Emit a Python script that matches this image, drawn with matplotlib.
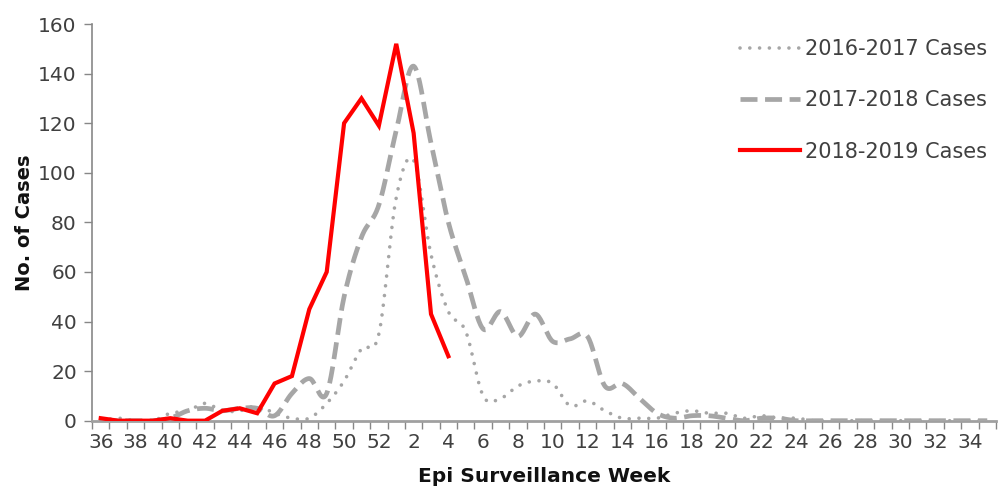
import numpy as np
import matplotlib
matplotlib.use("Agg")
import matplotlib.pyplot as plt

weeks = list(range(36, 53)) + list(range(1, 36))

cases_2016_2017 = [0, 1, 0, 0, 3, 4, 7, 4, 4, 6, 3, 1, 1, 7, 16, 29, 35,
                   90, 105, 67, 44, 36, 10, 9, 14, 16, 15, 6, 8, 4, 1, 1, 1,
                   3, 4, 3, 3, 1, 2, 1, 1, 0, 0, 0, 0, 0, 0, 0, 0, 0, 0, 0]
cases_2017_2018 = [0, 0, 0, 0, 1, 4, 5, 4, 5, 5, 2, 11, 17, 11, 50, 74, 87,
                   117, 143, 112, 80, 58, 37, 44, 34, 43, 32, 33, 34, 14, 15, 9, 3,
                   1, 2, 2, 1, 0, 1, 1, 0, 0, 0, 0, 0, 0, 0, 0, 0, 0, 0, 0]
cases_2018_2019 = [1, 0, 0, 0, 1, 0, 0, 4, 5, 3, 15, 18, 45, 60, 120, 130, 119,
                   152, 116, 43, 26]

series_labels = ["2016-2017 Cases", "2017-2018 Cases", "2018-2019 Cases"]
y_ticks = [0, 20, 40, 60, 80, 100, 120, 140, 160]


def smooth(xs, ys, n=20):
    """Excel-style smoothed line (Catmull-Rom Bezier through the points)."""
    xs = np.asarray(xs, float)
    ys = np.asarray(ys, float)
    px, py = [], []
    m = len(xs)
    for i in range(m - 1):
        x0, y0 = (xs[i - 1], ys[i - 1]) if i > 0 else (xs[i], ys[i])
        x1, y1 = xs[i], ys[i]
        x2, y2 = xs[i + 1], ys[i + 1]
        x3, y3 = (xs[i + 2], ys[i + 2]) if i + 2 < m else (x2, y2)
        c1x, c1y = x1 + (x2 - x0) / 6, y1 + (y2 - y0) / 6
        c2x, c2y = x2 - (x3 - x1) / 6, y2 - (y3 - y1) / 6
        t = np.linspace(0, 1, n, endpoint=(i == m - 2))
        a = (1 - t) ** 3
        b = 3 * (1 - t) ** 2 * t
        c = 3 * (1 - t) * t ** 2
        d = t ** 3
        px.extend(a * x1 + b * c1x + c * c2x + d * x2)
        py.extend(a * y1 + b * c1y + c * c2y + d * y2)
    return np.array(px), np.array(py)


plt.rcParams['font.family'] = ['DejaVu Sans']

fig = plt.figure(figsize=(10.06, 4.94), dpi=100)
ax = fig.add_axes([0.0915, 0.1484, 0.8985, 0.803])

gray = '#A6A6A6'
x_all = np.arange(len(weeks))

sx, sy = smooth(x_all[:len(cases_2016_2017)], cases_2016_2017)
ax.plot(sx, sy, color=gray, lw=2.6, linestyle=(0, (0.01, 2.7)),
        dash_capstyle='round', label=series_labels[0], zorder=2)
sx, sy = smooth(x_all[:len(cases_2017_2018)], cases_2017_2018)
ax.plot(sx, sy, color=gray, lw=3.4, linestyle=(0, (3.6, 1.6)),
        dash_capstyle='butt', label=series_labels[1], zorder=3)
ax.plot(x_all[:len(cases_2018_2019)], cases_2018_2019, color='#FF0000', lw=3.0,
        label=series_labels[2], zorder=4, solid_joinstyle='miter')

ax.set_xlim(-0.5, len(weeks) - 0.5)
ax.set_ylim(0, 160)
ax.set_yticks(y_ticks)
ax.set_xticks(x_all[::2])
ax.set_xticklabels([str(w) for w in weeks[::2]])
ax.set_xticks(np.arange(-0.5, len(weeks), 1.0), minor=True)

axis_col = '#878787'
for s in ['top', 'right']:
    ax.spines[s].set_visible(False)
ax.spines['left'].set_color(axis_col)
ax.spines['left'].set_linewidth(1.2)
ax.spines['bottom'].set_color('#A0A0A0')
ax.spines['bottom'].set_linewidth(2.0)
ax.tick_params(axis='x', which='major', length=0, pad=9, labelsize=14.5,
               labelcolor='#404040')
ax.tick_params(axis='x', which='minor', length=6, width=1.0, color=axis_col)
ax.tick_params(axis='y', which='major', length=6, width=1.0, color=axis_col,
               labelsize=14.5, labelcolor='#404040', pad=5)

ax.set_ylabel('No. of Cases', fontsize=14, fontweight='bold', labelpad=3,
              color='#111111')
ax.set_xlabel('Epi Surveillance Week', fontsize=14.5, fontweight='bold',
              labelpad=11, color='#111111')

leg = ax.legend(loc='upper right', bbox_to_anchor=(1.0, 0.983), frameon=False,
                fontsize=15, handlelength=2.9, handletextpad=0.25,
                labelspacing=1.5, borderaxespad=0)
for t in leg.get_texts():
    t.set_color('#404040')

fig.savefig('out.png', dpi=100)
